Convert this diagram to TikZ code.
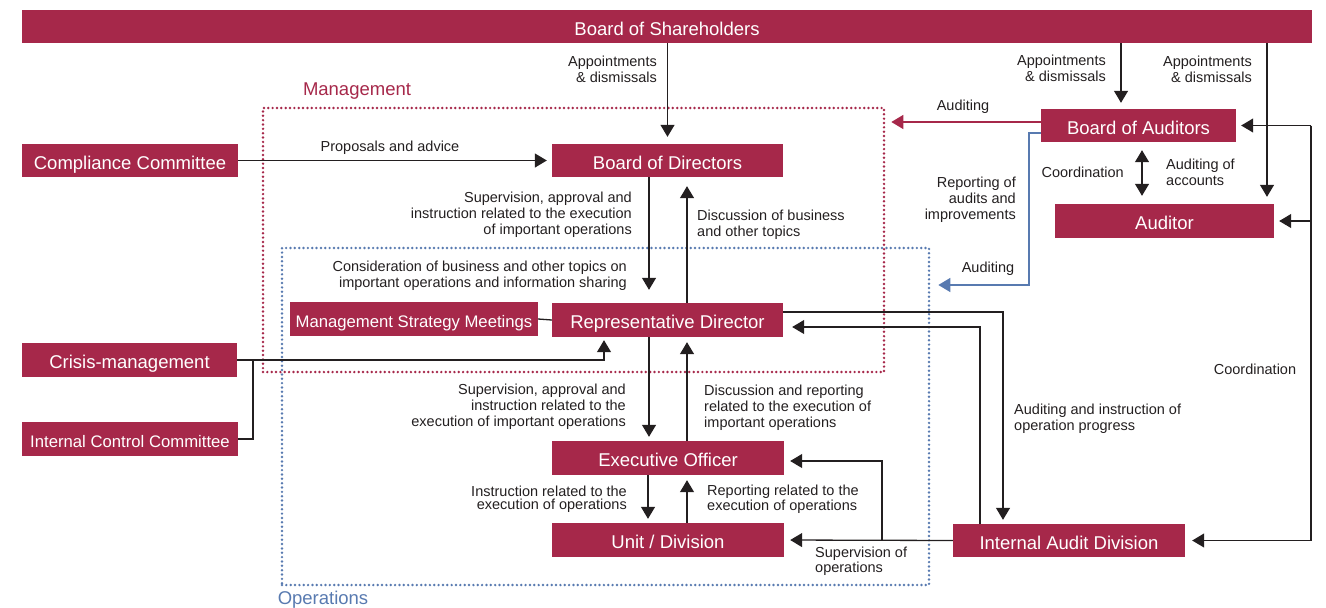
\documentclass[tikz,border=0pt]{standalone}
\usepackage{fontspec}
\setmainfont{Liberation Sans}
\usetikzlibrary{arrows.meta,calc}
\definecolor{boxred}{RGB}{166,40,74}
\definecolor{opblue}{RGB}{88,122,176}
\definecolor{ink}{RGB}{35,31,32}
\tikzset{
  box/.style={fill=boxred,text=white,inner sep=0pt,text height=17pt,text depth=0pt,font=\fontsize{18.5}{20}\selectfont},
  smallbox/.style={box,text height=16pt,font=\fontsize{16.7}{18}\selectfont},
  lbl/.style={text=ink,inner sep=0pt,yshift=-2pt,font=\fontsize{14.5}{16}\selectfont},
  tlbl/.style={lbl,font=\fontsize{14.5}{13}\selectfont},
  conn/.style={draw=ink,line width=1.3pt},
  arr/.style={conn,-{Triangle[length=12pt,width=14pt]}},
  darr/.style={conn,{Triangle[length=12pt,width=14pt]}-{Triangle[length=12pt,width=14pt]}},
  redarr/.style={draw=boxred,line width=1.6pt,-{Triangle[length=12pt,width=14pt]}},
  bluearr/.style={draw=opblue,line width=1.6pt,-{Triangle[length=12pt,width=14pt]}},
  dotframe/.style={line width=2.7pt,line cap=round,dash pattern=on 0pt off 4.35pt,inner sep=0pt},
  framelbl/.style={inner sep=0pt,yshift=-2pt,font=\fontsize{18.5}{20}\selectfont}
}
\begin{document}
\begin{tikzpicture}[x=1pt,y=-1pt]
\useasboundingbox (0,0) rectangle (1326,608);
% frames
\node[dotframe,draw=boxred,minimum width=621pt,minimum height=264pt] (mgmt) at (573.5,240) {};
\node[dotframe,draw=opblue,minimum width=647pt,minimum height=337pt] (ops) at (605.5,416.5) {};
\node[framelbl,text=boxred] (mgl) at (357,89) {Management};
\node[framelbl,text=opblue] (opl) at (323,598) {Operations};
% boxes
\node[box,minimum width=1290pt,minimum height=33pt] (bsh) at (667,26.5) {Board of Shareholders};
\node[box,minimum width=231pt,minimum height=33pt] (bod) at (667.5,160.5) {Board of Directors};
\node[box,minimum width=216pt,minimum height=33pt] (cc) at (130,160.5) {Compliance Committee};
\node[box,minimum width=195pt,minimum height=33pt] (boa) at (1138.5,125.5) {Board of Auditors};
\node[box,minimum width=219pt,minimum height=34pt] (aud) at (1164.5,221) {Auditor};
\node[smallbox,minimum width=248pt,minimum height=34pt] (msm) at (414,319) {Management Strategy Meetings};
\node[box,minimum width=231pt,minimum height=34pt] (rd) at (667.5,320) {Representative Director};
\node[box,minimum width=215pt,minimum height=34pt] (crisis) at (129.5,360) {Crisis-management};
\node[smallbox,minimum width=216pt,minimum height=34pt] (icc) at (130,439) {Internal Control Committee};
\node[box,minimum width=232pt,minimum height=34pt] (eo) at (668,458) {Executive Officer};
\node[box,minimum width=232pt,minimum height=34pt] (ud) at (668,540) {Unit / Division};
\node[box,minimum width=232pt,minimum height=33pt] (iad) at (1069,540.5) {Internal Audit Division};
% helper columns
\coordinate (c1121) at (1121,0);
\coordinate (c1267) at (1267,0);
\coordinate (c1029) at (1029,285);
\coordinate (c1142) at (1142,0);
\coordinate (cr) at (1311,0);
\coordinate (c649) at (649,0);
\coordinate (c648) at (648,0);
\coordinate (c687) at (687,0);
\coordinate (c604) at (604,0);
\coordinate (c253) at (253,0);
\coordinate (c1003) at (1003,0);
\coordinate (c980) at (980,0);
\coordinate (c882) at (882,0);
% connectors
\draw[arr,shorten >=7pt] (bsh.south -| bod.north) -- (bod.north);
\draw[arr,shorten >=6pt] (bsh.south -| c1121) -- (c1121 |- boa.north);
\draw[arr,shorten >=7pt] (bsh.south -| c1267) -- (c1267 |- aud.north);
\draw[redarr,shorten >=6pt] ([yshift=3.5pt]boa.west) -- ([yshift=3.5pt]boa.west -| mgmt.east);
\draw[bluearr,shorten >=8pt] ([yshift=-7.5pt]boa.west) -| (c1029) -- (c1029 -| ops.east);
\draw[darr,shorten <=8pt,shorten >=8pt] (c1142 |- boa.south) -- (c1142 |- aud.north);
\draw[conn] (boa.east -| cr) -- (iad.east -| cr);
\draw[arr,shorten >=5pt] (boa.east -| cr) -- (boa.east);
\draw[arr,shorten >=5pt] (aud.east -| cr) -- (aud.east);
\draw[arr,shorten >=7pt] (iad.east -| cr) -- (iad.east);
\draw[arr,shorten >=5pt] (cc.east) -- (bod.west);
\draw[arr,shorten >=13pt] (bod.south -| c649) -- (c649 |- rd.north);
\draw[arr,shorten >=9pt] (rd.north -| c687) -- (c687 |- bod.south);
\draw[conn] (msm.east) -- (rd.west);
\draw[arr,shorten >=3pt] (crisis.east) -- (c604 |- crisis.east) -- (c604 |- rd.south);
\draw[conn] (icc.east) -- (c253 |- icc.east) -- (c253 |- crisis.east);
\draw[arr,shorten >=4pt] (rd.south -| c649) -- (c649 |- eo.north);
\draw[arr,shorten >=5pt] (eo.north -| c687) -- (c687 |- rd.south);
\draw[arr,shorten >=4pt] (eo.south -| c648) -- (c648 |- ud.north);
\draw[arr,shorten >=5pt] (ud.north -| c687) -- (c687 |- eo.south);
\draw[arr,shorten >=4pt] ([yshift=8pt]rd.east) -| (c1003 |- iad.north);
\draw[arr,shorten >=9pt] (iad.north -| c980) |- ([yshift=-7pt]rd.east);
\draw[arr,shorten >=6pt] (iad.west) -- (ud.east);
\draw[arr,shorten >=6pt] (c882 |- iad.west) |- ([yshift=-3pt]eo.east);
% labels
\node[lbl,anchor=east,align=right] (l1) at (657,67) {Appointments\\\& dismissals};
\node[lbl,anchor=east,align=right] (l2) at (1106,66) {Appointments\\\& dismissals};
\node[lbl,anchor=east,align=right] (l3) at (1252,67) {Appointments\\\& dismissals};
\node[lbl] (l5) at (963,105) {Auditing};
\node[lbl] (l6) at (390,146) {Proposals and advice};
\node[lbl,anchor=east,align=right] (l7) at (1016,198) {Reporting of\\audits and\\improvements};
\node[lbl,anchor=east] (l8) at (1124,170) {Coordination};
\node[lbl,anchor=west,align=left] (l9) at (1166,170) {Auditing of\\accounts};
\node[lbl,anchor=east,align=right] (l10) at (632,213) {Supervision, approval and\\instruction related to the execution\\of important operations};
\node[lbl,anchor=west,align=left] (l11) at (697,223) {Discussion of business\\and other topics};
\node[lbl,anchor=east,align=right] (l12) at (627,274) {Consideration of business and other topics on\\important operations and information sharing};
\node[lbl] (l13) at (988,267) {Auditing};
\node[lbl] (l14) at (1255,367) {Coordination};
\node[lbl,anchor=east,align=right] (l15) at (626,405) {Supervision, approval and\\instruction related to the\\execution of important operations};
\node[lbl,anchor=west,align=left] (l16) at (704,406) {Discussion and reporting\\related to the execution of\\important operations};
\node[lbl,anchor=west,align=left] (l17) at (1014,417) {Auditing and instruction of\\operation progress};
\node[tlbl,anchor=east,align=right] (l18) at (627,497) {Instruction related to the\\execution of operations};
\node[tlbl,anchor=west,align=left] (l19) at (707,497) {Reporting related to the\\execution of operations};
\node[tlbl,anchor=west,align=left] (l20) at (815,559) {Supervision of\\operations};
\end{tikzpicture}
\end{document}
